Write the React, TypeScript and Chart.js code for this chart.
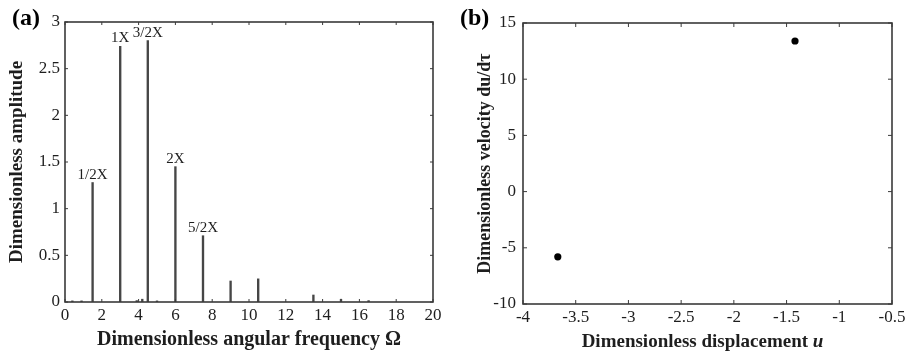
import React, { useEffect, useRef } from "react";
import { Chart, registerables } from "chart.js";

Chart.register(...registerables);

// ---------- Data: panel (a) amplitude spectrum ----------
const spectrumFreq = [0.4, 0.9, 1.5, 3.0, 3.9, 4.2, 4.5, 5.0, 6.0, 7.5, 9.0, 10.5, 13.5, 15.0, 16.5];
const spectrumAmp = [0.012, 0.012, 1.28, 2.74, 0.015, 0.03, 2.8, 0.012, 1.45, 0.71, 0.225, 0.248, 0.075, 0.03, 0.015];
const peakLabels = ["1/2X", "1X", "3/2X", "2X", "5/2X"];
const peakLabelFreq = [1.5, 3.0, 4.5, 6.0, 7.5];
const freqTicks = [0, 2, 4, 6, 8, 10, 12, 14, 16, 18, 20];
const ampTicks = [0, 0.5, 1, 1.5, 2, 2.5, 3];

// ---------- Data: panel (b) Poincaré / phase points ----------
const phaseU = [-3.67, -1.42];
const phaseV = [-5.8, 13.4];
const dispTicks = [-4, -3.5, -3, -2.5, -2, -1.5, -1, -0.5];
const velTicks = [-10, -5, 0, 5, 10, 15];

const SERIF = "'Liberation Serif', 'Times New Roman', serif";
const AXIS = "#3a3a3a";
const TEXT = "#1e1e1e";

const framePlugin = {
  id: "frame",
  afterDraw(chart: any, _args: any, opts: any) {
    const { ctx, chartArea: a, scales } = chart;
    const xs = scales.x;
    const ys = scales.y;
    const L = opts.tick || 4;
    ctx.save();
    ctx.strokeStyle = AXIS;
    ctx.lineWidth = 1;
    ctx.beginPath();
    xs.ticks.forEach((t: any) => {
      const x = xs.getPixelForValue(t.value);
      ctx.moveTo(x, a.bottom);
      ctx.lineTo(x, a.bottom - L);
      ctx.moveTo(x, a.top);
      ctx.lineTo(x, a.top + L);
    });
    ys.ticks.forEach((t: any) => {
      const y = ys.getPixelForValue(t.value);
      ctx.moveTo(a.left, y);
      ctx.lineTo(a.left + L, y);
      ctx.moveTo(a.right, y);
      ctx.lineTo(a.right - L, y);
    });
    ctx.stroke();
    ctx.lineWidth = 1.6;
    ctx.strokeRect(a.left, a.top, a.right - a.left, a.bottom - a.top);
    // panel letter
    ctx.fillStyle = "#000";
    ctx.font = `bold 24px ${SERIF}`;
    ctx.textAlign = "left";
    ctx.textBaseline = "alphabetic";
    ctx.fillText(opts.letter, opts.letterX, 25);
    ctx.restore();
  },
};

const peakLabelPlugin = {
  id: "peakLabels",
  afterDatasetsDraw(chart: any) {
    const { ctx, scales } = chart;
    ctx.save();
    ctx.fillStyle = TEXT;
    ctx.font = `15px ${SERIF}`;
    ctx.textAlign = "center";
    ctx.textBaseline = "alphabetic";
    peakLabels.forEach((lab, i) => {
      const f = peakLabelFreq[i];
      const idx = spectrumFreq.indexOf(f);
      const amp = spectrumAmp[idx];
      const x = scales.x.getPixelForValue(f);
      const y = scales.y.getPixelForValue(amp);
      ctx.fillText(lab, x, y - 4);
    });
    ctx.restore();
  },
};

const dispTitlePlugin = {
  id: "dispTitle",
  afterDraw(chart: any) {
    const { ctx, chartArea: a } = chart;
    ctx.save();
    ctx.fillStyle = TEXT;
    ctx.textBaseline = "middle";
    ctx.textAlign = "left";
    const p1 = "Dimensionless displacement ";
    const p2 = "u";
    ctx.font = `bold 19px ${SERIF}`;
    const w1 = ctx.measureText(p1).width;
    ctx.font = `italic bold 19px ${SERIF}`;
    const w2 = ctx.measureText(p2).width;
    const cx = (a.left + a.right) / 2 - 5;
    const x0 = cx - (w1 + w2) / 2;
    ctx.font = `bold 19px ${SERIF}`;
    ctx.fillText(p1, x0, 342);
    ctx.font = `italic bold 19px ${SERIF}`;
    ctx.fillText(p2, x0 + w1, 342);
    ctx.restore();
  },
};

const tickFont = { family: SERIF, size: 17 };

function SpectrumChart() {
  const ref = useRef<HTMLCanvasElement>(null);
  useEffect(() => {
    const chart = new Chart(ref.current!, {
      type: "bar",
      data: {
        datasets: [
          {
            data: spectrumFreq.map((f, i) => ({ x: f, y: spectrumAmp[i] })),
            backgroundColor: "#464646",
            barThickness: 1.7,
          },
        ],
      },
      options: {
        responsive: false,
        animation: false,
        layout: { padding: { top: 22, right: 24, left: 0, bottom: 0 } },
        plugins: {
          legend: { display: false },
          tooltip: { enabled: false },
          frame: { letter: "(a)", letterX: 12, tick: 3 },
        } as any,
        scales: {
          x: {
            type: "linear",
            min: 0,
            max: 20,
            offset: false,
            grid: { display: false, drawTicks: false, offset: false },
            border: { display: false },
            afterBuildTicks: (s: any) => {
              s.ticks = freqTicks.map((v) => ({ value: v }));
            },
            afterFit: (s: any) => {
              s.height = 51;
            },
            ticks: {
              font: tickFont,
              color: TEXT,
              padding: 3,
              maxRotation: 0,
              autoSkip: false,
              callback: (v: any) => String(v),
            },
            title: {
              display: true,
              text: "Dimensionless angular frequency Ω",
              font: { family: SERIF, size: 20, weight: "bold" },
              color: TEXT,
              padding: { top: 0, bottom: 1 },
            },
          },
          y: {
            min: 0,
            max: 3,
            grid: { display: false, drawTicks: false },
            border: { display: false },
            afterBuildTicks: (s: any) => {
              s.ticks = ampTicks.map((v) => ({ value: v }));
            },
            afterFit: (s: any) => {
              s.width = 65;
            },
            ticks: {
              font: tickFont,
              color: TEXT,
              padding: 5,
              autoSkip: false,
              callback: (v: any) => String(v),
            },
            title: {
              display: true,
              text: "Dimensionless amplitude",
              font: { family: SERIF, size: 19, weight: "bold" },
              color: TEXT,
              padding: { top: 6, bottom: 0 },
            },
          },
        },
      },
      plugins: [framePlugin, peakLabelPlugin],
    });
    return () => chart.destroy();
  }, []);
  return <canvas ref={ref} width={457} height={353} style={{ display: "block" }} />;
}

function PhaseChart() {
  const ref = useRef<HTMLCanvasElement>(null);
  useEffect(() => {
    const chart = new Chart(ref.current!, {
      type: "scatter",
      data: {
        datasets: [
          {
            data: phaseU.map((u, i) => ({ x: u, y: phaseV[i] })),
            backgroundColor: "#000",
            borderColor: "#000",
            pointRadius: 3.6,
            pointBorderWidth: 0,
          },
        ],
      },
      options: {
        responsive: false,
        animation: false,
        layout: { padding: { top: 23, right: 22, left: 0, bottom: 0 } },
        plugins: {
          legend: { display: false },
          tooltip: { enabled: false },
          frame: { letter: "(b)", letterX: 3, tick: 4 },
        } as any,
        scales: {
          x: {
            type: "linear",
            min: -4,
            max: -0.5,
            grid: { display: false, drawTicks: false },
            border: { display: false },
            afterBuildTicks: (s: any) => {
              s.ticks = dispTicks.map((v) => ({ value: v }));
            },
            afterFit: (s: any) => {
              s.height = 49;
            },
            ticks: {
              font: tickFont,
              color: TEXT,
              padding: 3,
              maxRotation: 0,
              autoSkip: false,
              callback: (v: any) => String(v),
            },
            title: { display: false },
          },
          y: {
            min: -10,
            max: 15,
            grid: { display: false, drawTicks: false },
            border: { display: false },
            afterBuildTicks: (s: any) => {
              s.ticks = velTicks.map((v) => ({ value: v }));
            },
            afterFit: (s: any) => {
              s.width = 66;
            },
            ticks: {
              font: tickFont,
              color: TEXT,
              padding: 7,
              autoSkip: false,
              callback: (v: any) => String(v),
            },
            title: {
              display: true,
              text: "Dimensionless velocity du/dτ",
              font: { family: SERIF, size: 18, weight: "bold" },
              color: TEXT,
              padding: { top: 18, bottom: 0 },
            },
          },
        },
      },
      plugins: [framePlugin, dispTitlePlugin],
    });
    return () => chart.destroy();
  }, []);
  return <canvas ref={ref} width={457} height={353} style={{ display: "block" }} />;
}

export default function App() {
  return (
    <div
      style={{
        position: "absolute",
        left: 0,
        top: 0,
        width: 914,
        height: 353,
        display: "flex",
        background: "#fff",
      }}
    >
      <SpectrumChart />
      <PhaseChart />
    </div>
  );
}
